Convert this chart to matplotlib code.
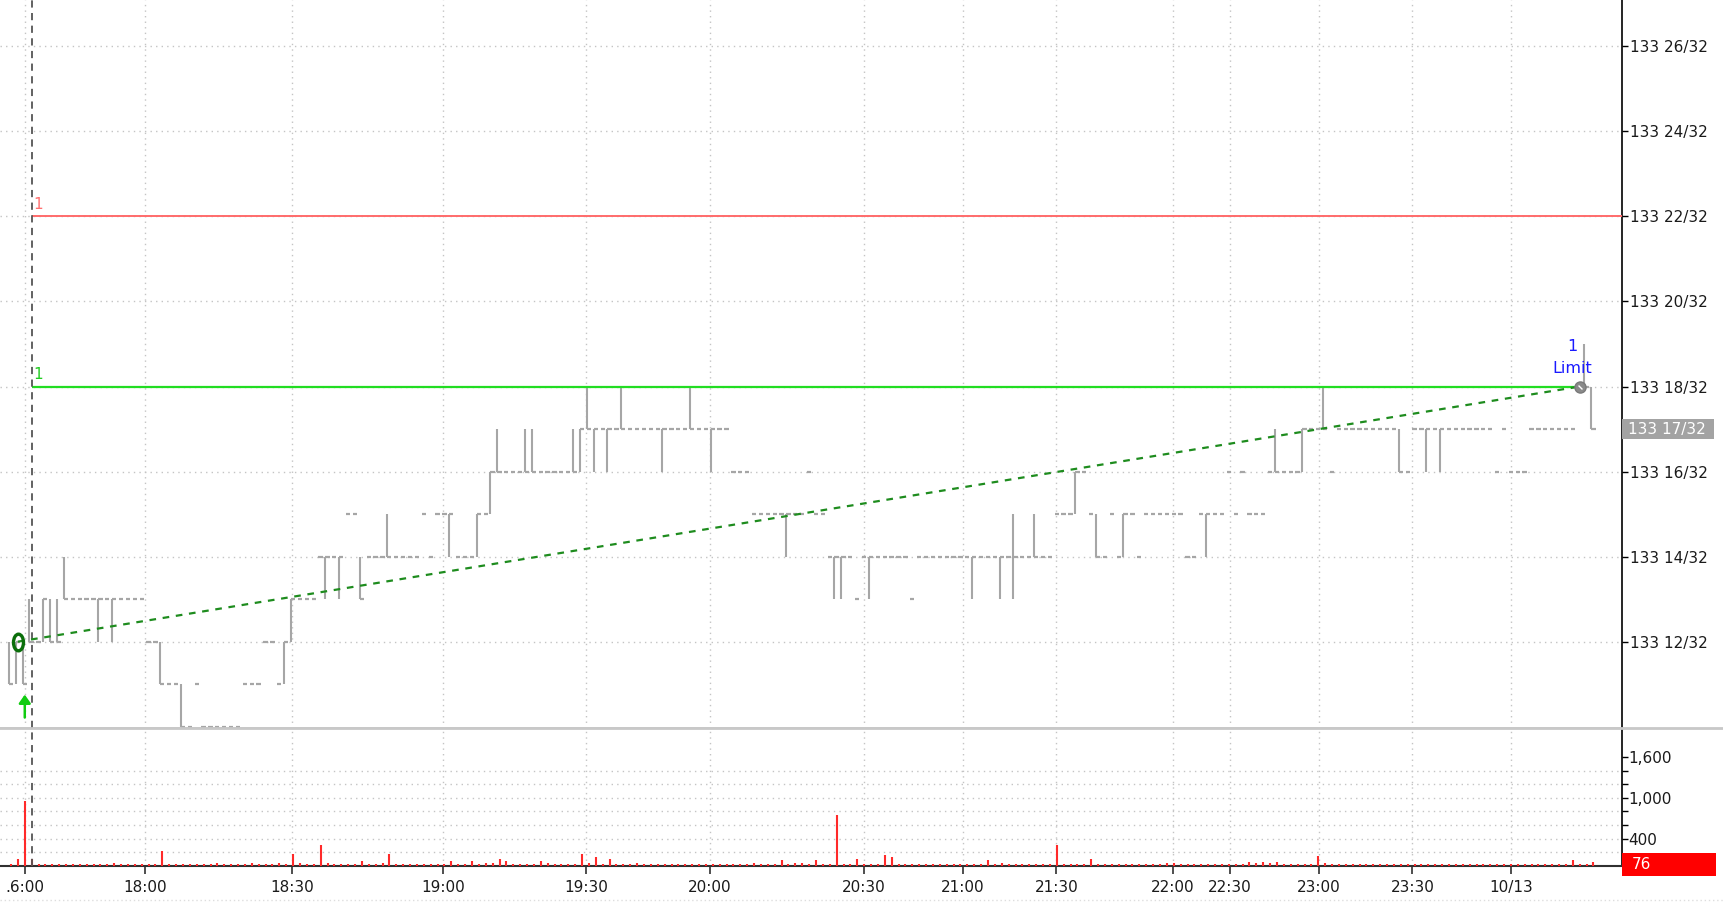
import matplotlib
matplotlib.use('Agg')
import matplotlib.pyplot as plt
import matplotlib.transforms as mtransforms
from matplotlib.lines import Line2D
from matplotlib.patches import Rectangle
from matplotlib.path import Path

plt.rcParams['font.family'] = ['DejaVu Sans']

# preço de fechamento de cada barra, em 32avos acima de 133
closes = [
    11, 12, 11, 12, 12, 13, 12, 12, 13, 13,
    13, 13, 13, 13, 13, 13, 13, 13, 13, 13,
    12, 12, 11, 11, 11, 10, 10, 11, 10, 10,
    10, 10, 10, 10, 11, 11, 11, 12, 12, 11,
    12, 13, 13, 13, 13, 14, 14, 14, 14, 15,
    15, 13, 14, 14, 14, 14, 14, 14, 14, 14,
    15, 14, 15, 15, 15, 14, 14, 14, 15, 15,
    16, 16, 16, 16, 16, 16, 16, 16, 16, 16,
    16, 16, 16, 17, 17, 17, 17, 17, 17, 17,
    17, 17, 17, 17, 17, 17, 17, 17, 17, 17,
    17, 17, 17, 17, 17, 16, 16, 16, 15, 15,
    15, 15, 15, 15, 15, 15, 16, 15, 15, 14,
    14, 14, 14, 13, 14, 14, 14, 14, 14, 14,
    14, 13, 14, 14, 14, 14, 14, 14, 14, 14,
    14, 14, 14, 14, 14, 14, 14, 14, 14, 14,
    14, 14, 15, 15, 15, 16, 16, 15, 14, 14,
    15, 14, 15, 15, 14, 15, 15, 15, 15, 15,
    15, 14, 14, 15, 15, 15, 15, 16, 15, 16,
    15, 15, 15, 16, 16, 16, 16, 16, 17, 17,
    17, 17, 16, 17, 17, 17, 17, 17, 17, 17,
    17, 17, 16, 16, 17, 17, 17, 17, 17, 17,
    17, 17, 17, 17, 17, 17, 16, 17, 16, 16,
    16, 17, 17, 17, 17, 17, 17, 17, 18, 18,
    17,
]

# barras com mínima != máxima
range_idx = [0, 1, 2, 3, 5, 6, 7, 8, 13, 15, 22, 25, 40, 41, 46, 48, 51, 55,
             64, 68, 70, 71, 75, 76, 82, 83, 84, 85, 87, 89, 95, 99, 102, 113,
             120, 121, 125, 140, 144, 146, 149, 155, 158, 162, 174, 184, 188,
             191, 202, 206, 208, 229, 230]
range_lo = [11, 11, 11, 12, 12, 12, 12, 13, 12, 12, 11, 10, 11, 12, 13, 13, 13, 14,
            14, 14, 15, 16, 16, 16, 16, 16, 17, 16, 16, 17, 16, 17, 16, 14,
            13, 13, 13, 13, 13, 13, 14, 15, 14, 14, 14, 16, 16,
            17, 16, 16, 16, 18, 17]
range_hi = [12, 12, 12, 13, 13, 13, 13, 14, 13, 13, 12, 11, 12, 13, 14, 14, 14, 15,
            15, 15, 16, 17, 17, 17, 17, 17, 18, 17, 17, 18, 17, 18, 17, 15,
            14, 14, 14, 14, 14, 15, 15, 16, 15, 15, 15, 17, 17,
            18, 17, 17, 17, 19, 18]

volumes = [
    35, 109, 952, 109, 35, 35, 35, 35, 35, 35,
    35, 35, 35, 35, 35, 50, 35, 35, 35, 35,
    35, 35, 213, 35, 35, 35, 35, 35, 35, 35,
    50, 35, 35, 35, 35, 50, 35, 35, 35, 50,
    35, 183, 50, 35, 35, 312, 50, 35, 35, 35,
    35, 75, 35, 35, 50, 183, 35, 35, 35, 35,
    35, 35, 35, 35, 75, 35, 35, 75, 35, 50,
    50, 109, 75, 35, 35, 35, 35, 75, 50, 35,
    35, 35, 35, 183, 50, 134, 35, 109, 35, 35,
    35, 50, 35, 35, 35, 35, 35, 35, 35, 35,
    35, 35, 35, 35, 35, 35, 35, 35, 50, 35,
    35, 35, 85, 35, 50, 50, 35, 85, 35, 35,
    750, 35, 35, 109, 35, 35, 35, 159, 134, 35,
    35, 35, 35, 35, 35, 35, 35, 35, 35, 35,
    35, 35, 85, 35, 50, 35, 35, 35, 35, 35,
    35, 35, 312, 35, 35, 35, 35, 109, 35, 35,
    35, 35, 35, 35, 35, 35, 35, 35, 50, 50,
    35, 35, 35, 35, 35, 35, 35, 35, 35, 35,
    65, 43, 65, 43, 65, 35, 35, 35, 35, 35,
    140, 43, 35, 35, 35, 35, 35, 35, 35, 35,
    35, 35, 35, 35, 35, 35, 35, 35, 35, 35,
    35, 35, 35, 35, 35, 35, 35, 35, 35, 35,
    35, 35, 35, 35, 35, 35, 35, 95, 35, 35,
    65,
]

time_labels = ['.6:00', '18:00', '18:30', '19:00', '19:30', '20:00', '20:30',
               '21:00', '21:30', '22:00', '22:30', '23:00', '23:30', '10/13']
time_pos = [2.02, 19.53, 40.84, 62.76, 83.62, 101.57, 123.98,
            138.34, 151.92, 168.82, 177.18, 190.12, 203.68, 217.98]

price_ticks = [12, 14, 16, 18, 20, 22, 24, 26]
vol_ticks = [400, 1000, 1600]
vol_tick_labels = ['400', '1,000', '1,600']
vol_minor = [600, 800, 1200, 1400]
vol_grid = [200, 400, 600, 800, 1000, 1200, 1400]

last_price = 17
last_volume = 76
entry_bar, entry_price = 1, 12
exit_bar, exit_price = 228, 18
order_bar = 3
stop_price = 22
target_price = 18

GRID = dict(color='#c4c4c4', linestyle=(0, (1, 3)), linewidth=1.0)
BAR_GRAY = '#a6a6a6'
XMIN, XMAX = -1.6, 234.1

fig = plt.figure(figsize=(17.23, 9.02), dpi=100)
ax = fig.add_axes([0, 0.1934, 0.9412, 0.8066])
axv = fig.add_axes([0, 0.0399, 0.9412, 0.1535], sharex=ax)

# ---- painel de preço ----
bars = list(range(len(closes)))
ax.hlines(closes, [b - 0.32 for b in bars], [b + 0.3 for b in bars],
          color=BAR_GRAY, linewidth=1.6, zorder=3)
ax.vlines([b - 0.32 for b in range_idx], range_lo, range_hi,
          color=BAR_GRAY, linewidth=1.5, zorder=3)

ax.hlines(stop_price, order_bar, XMAX, color='#ff6b6b', linewidth=1.4, zorder=4)
ax.hlines(target_price, order_bar, exit_bar, color='#22dd22', linewidth=1.6, zorder=4)
ax.text(order_bar + 0.2, stop_price + 0.1, '1', color='#ff7070', fontsize=11,
        ha='left', va='bottom')
ax.text(order_bar + 0.2, target_price + 0.1, '1', color='#22cc22', fontsize=11,
        ha='left', va='bottom')

ax.plot([entry_bar, exit_bar], [entry_price, exit_price], color='#1e8c1e',
        linewidth=1.6, linestyle=(0, (3, 3)), zorder=5)

ellipse = Path.unit_circle().transformed(mtransforms.Affine2D().scale(0.6, 1.0))
ax.plot([entry_bar], [entry_price], marker=ellipse, markersize=12,
        markerfacecolor='none', markeredgecolor='#0a6e0a', markeredgewidth=2.4,
        zorder=6)
ax.plot([exit_bar], [exit_price], marker='o', markersize=8,
        markerfacecolor='#8a8a8a', markeredgecolor='#7a7a7a', zorder=6)
ax.plot([exit_bar], [exit_price], marker=(2, 0, 45), markersize=4,
        markeredgecolor='white', markeredgewidth=1.0, zorder=7)

ax.text(exit_bar - 1.1, exit_price + 0.94, '1', color='#1a1aff', fontsize=11.5,
        ha='center', va='center')
ax.text(exit_bar - 1.1, exit_price + 0.42, 'Limit', color='#1a1aff', fontsize=11.5,
        ha='center', va='center')

ax.annotate('', xy=(entry_bar + 1, 10.82), xytext=(entry_bar + 1, 10.15),
            arrowprops=dict(arrowstyle='-|>,head_length=0.5,head_width=0.35',
                            color='#11cc11', lw=1.8))

ax.axvline(order_bar, color='#555555', linestyle=(0, (4, 3)), linewidth=1.3, zorder=4)

ax.set_xlim(XMIN, XMAX)
ax.set_ylim(9.98, 27.09)
ax.set_xticks(time_pos)
ax.tick_params(axis='x', length=0, labelbottom=False)
ax.yaxis.tick_right()
ax.set_yticks(price_ticks)
ax.set_yticklabels([f'133 {p}/32' for p in price_ticks])
ax.tick_params(axis='y', length=4, width=1, color='black', labelsize=11,
               labelcolor='#1a1a1a', pad=2)
ax.grid(True, **GRID)
for s in ['left', 'top']:
    ax.spines[s].set_visible(False)
ax.spines['right'].set_color('black')
ax.spines['right'].set_linewidth(1.2)
ax.spines['bottom'].set_color('#c8c8c8')
ax.spines['bottom'].set_linewidth(2)

# caixa do último preço
tr = mtransforms.blended_transform_factory(ax.transAxes, ax.transData)
ax.add_patch(Rectangle((1.0, last_price - 0.24), 0.0567, 0.48, transform=tr,
                       facecolor='#a3a3a3', edgecolor='none', clip_on=False, zorder=5))
ax.text(1.004, last_price, f'133 {last_price}/32', transform=tr, color='white',
        fontsize=11, ha='left', va='center', zorder=6)

# ---- painel de volume ----
axv.vlines(bars, 0, volumes, color='#ff2a2a', linewidth=1.5, zorder=3)
axv.axvline(order_bar, color='#555555', linestyle=(0, (4, 3)), linewidth=1.3, zorder=4)
for g in vol_grid:
    axv.axhline(g, zorder=1, **GRID)
axv.set_xlim(XMIN, XMAX)
axv.set_ylim(0, 2030)
axv.set_xticks(time_pos)
axv.set_xticklabels(time_labels)
axv.tick_params(axis='x', length=6, width=1.2, color='#303030', labelsize=11,
                labelcolor='#1a1a1a', pad=4)
axv.grid(True, axis='x', **GRID)
axv.yaxis.tick_right()
axv.set_yticks(vol_ticks)
axv.set_yticklabels(vol_tick_labels)
axv.set_yticks(vol_minor, minor=True)
axv.tick_params(axis='y', which='major', length=4, width=1, color='black',
                labelsize=11, labelcolor='#1a1a1a', pad=1)
axv.tick_params(axis='y', which='minor', length=4, width=1, color='black')
for s in ['left', 'top']:
    axv.spines[s].set_visible(False)
axv.spines['right'].set_color('black')
axv.spines['right'].set_linewidth(1.2)
axv.spines['bottom'].set_color('#303030')
axv.spines['bottom'].set_linewidth(1.5)

trv = mtransforms.blended_transform_factory(axv.transAxes, axv.transData)
axv.add_patch(Rectangle((1.0, -150), 0.058, 340, transform=trv,
                        facecolor='#ff0000', edgecolor='none', clip_on=False, zorder=5))
axv.text(1.006, 20, str(last_volume), transform=trv, color='white', fontsize=11,
         ha='left', va='center', zorder=6)

# linha separadora entre painéis e borda inferior
fig.add_artist(Line2D([0, 1], [0.1934, 0.1934], color='#c8c8c8', linewidth=2))
fig.add_artist(Line2D([0, 1], [0.002, 0.002], color='#dddddd', linewidth=1,
                      linestyle=(0, (1, 2))))

fig.savefig('out.png', dpi=100)
plt.close(fig)
